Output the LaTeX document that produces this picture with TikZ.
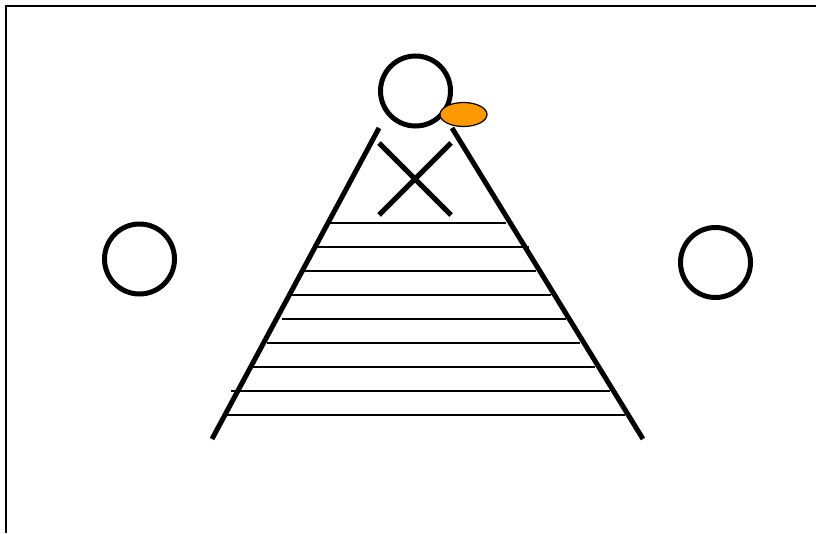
\documentclass[tikz,border=0pt]{standalone}
\definecolor{hatorange}{HTML}{FF9900}
\tikzset{
  thick line/.style={line width=5pt, black},
  rung/.style={line width=2pt, black},
  frame line/.style={line width=2pt, black},
  ring/.style={line width=5pt, black, fill=white}
}
\begin{document}
\begin{tikzpicture}[x=1pt,y=-1pt]
\useasboundingbox (0,0) rectangle (816,533);
% frame
\draw[frame line] (6,533) -- (6,6) -- (816,6);
% rungs
\foreach \y/\a/\b in {223/330/506, 247/317/529, 271/304/536, 295/291/551, 319/282/566, 343/267/580, 367/253/595, 391/231/610, 415/227/625}
  \draw[rung] (\a,\y) -- (\b,\y);
% legs
\draw[thick line] (212,439) -- (379,128);
\draw[thick line] (452,128) -- (643,439);
% cross
\draw[thick line] (379,143) -- (451,215);
\draw[thick line] (451,143) -- (379,215);
% head
\draw[ring] (415.5,91) circle (35);
\draw[line width=1.2pt, fill=hatorange] (463.5,114.5) ellipse (23.5 and 12);
% side circles
\draw[ring] (139.5,259) circle (35);
\draw[ring] (715.5,262.5) circle (35);
\end{tikzpicture}
\end{document}
